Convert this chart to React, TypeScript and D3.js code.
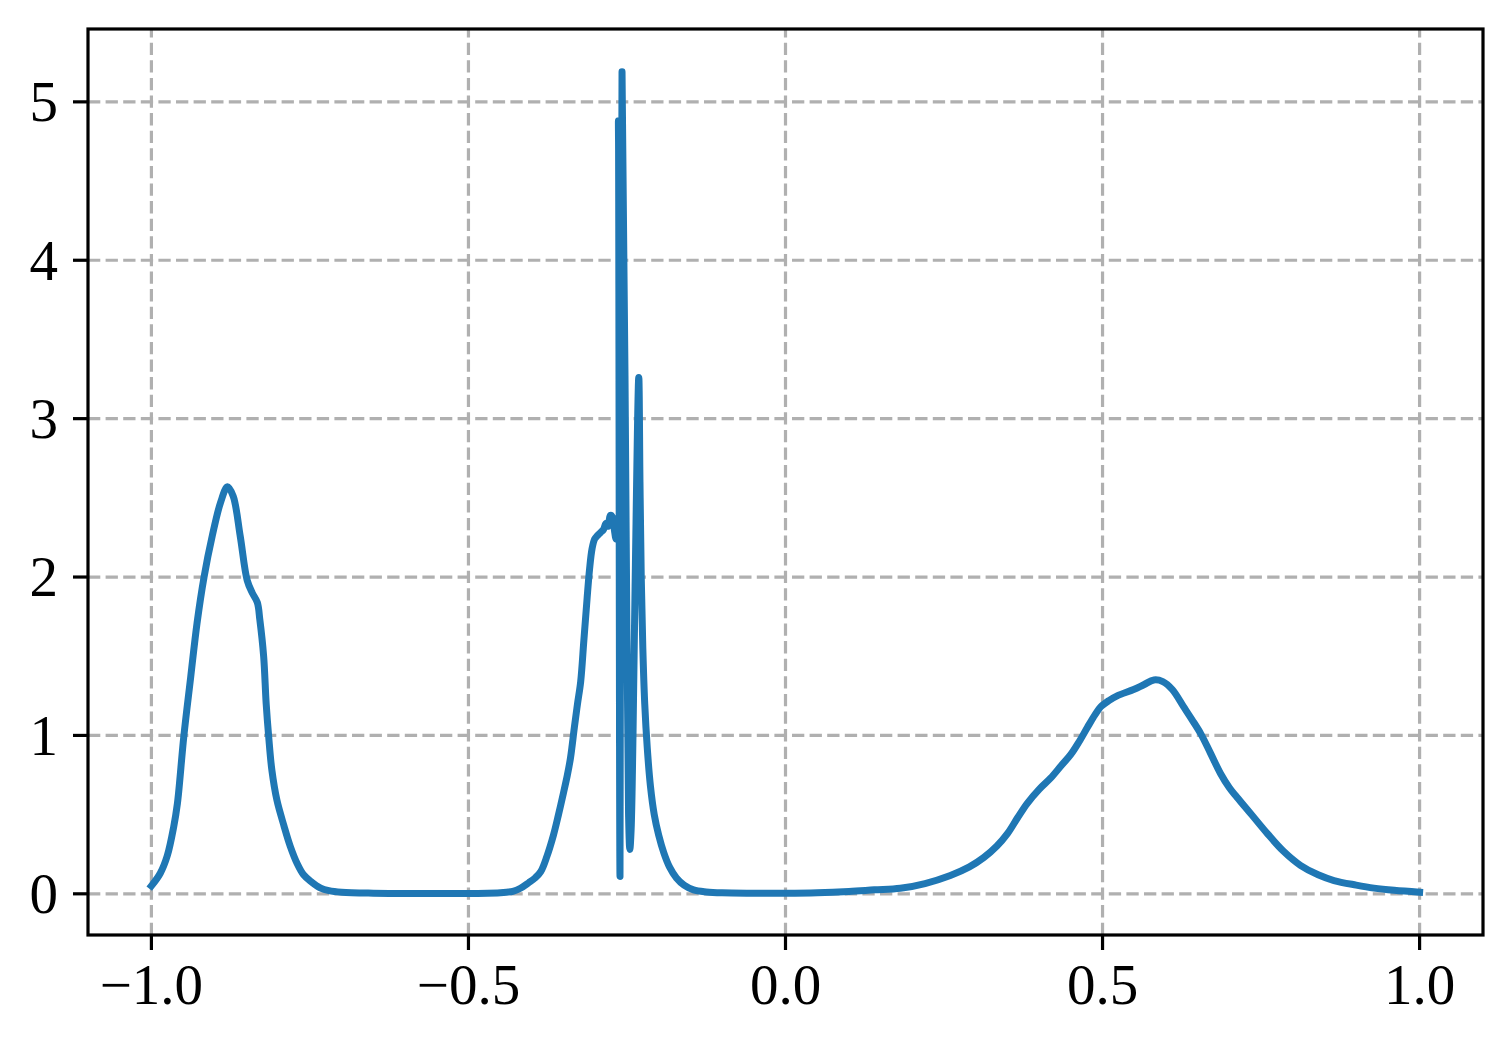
import React from "react";
import * as d3 from "d3";

const xValues: number[] = [
  -1.0, -0.986, -0.975, -0.965, -0.959, -0.949, -0.938, -0.928, -0.917, -0.904, -0.891, -0.88, -0.871, -0.86,
  -0.849, -0.841, -0.833, -0.829, -0.823, -0.819, -0.815, -0.81, -0.802, -0.791, -0.781, -0.77, -0.76, -0.749,
  -0.733, -0.72, -0.7, -0.65, -0.55, -0.47, -0.44, -0.43,
  -0.418, -0.405, -0.395, -0.386, -0.376, -0.366, -0.358, -0.35, -0.344, -0.339, -0.333, -0.328, -0.323,
  -0.318, -0.313, -0.309, -0.305, -0.301, -0.297, -0.292, -0.287, -0.283, -0.28, -0.276, -0.273, -0.27,
  -0.267, -0.265, -0.2635, -0.261, -0.2578, -0.25, -0.2475, -0.2455, -0.2435, -0.2405, -0.237, -0.2314,
  -0.2295, -0.2275, -0.225, -0.222, -0.218, -0.213, -0.207, -0.2, -0.192, -0.183, -0.172, -0.16, -0.145,
  -0.125, -0.1, -0.05, 0.0, 0.05, 0.1, 0.14, 0.181, 0.22, 0.26, 0.29, 0.313, 0.333, 0.35, 0.366, 0.381,
  0.4, 0.418, 0.435, 0.45, 0.463, 0.476, 0.488, 0.497, 0.51, 0.523, 0.549, 0.565, 0.581, 0.595, 0.61,
  0.628, 0.641, 0.655, 0.67, 0.686, 0.7, 0.712, 0.735, 0.76, 0.785, 0.812, 0.84, 0.865, 0.9, 0.928,
  0.96, 1.0,
];

const yValues: number[] = [
  0.05, 0.13, 0.24, 0.42, 0.57, 0.99, 1.37, 1.71, 2.0, 2.26, 2.47, 2.57, 2.51, 2.26,
  1.98, 1.9, 1.84, 1.73, 1.5, 1.2, 0.99, 0.78, 0.59, 0.43, 0.3, 0.19, 0.12, 0.08,
  0.036, 0.02, 0.01, 0.004, 0.002, 0.003, 0.01, 0.015,
  0.035, 0.07, 0.1, 0.14, 0.24, 0.37, 0.5, 0.64, 0.75, 0.86, 1.05, 1.2, 1.34,
  1.6, 1.86, 2.05, 2.18, 2.24, 2.26, 2.28, 2.3, 2.34, 2.32, 2.39, 2.38, 2.3,
  2.24, 2.25, 4.88, 0.11, 5.19, 1.6, 0.5, 0.28, 0.4, 1.0, 2.0, 3.26,
  2.6, 2.0, 1.55, 1.2, 0.92, 0.68, 0.5, 0.37, 0.26, 0.17, 0.1, 0.055, 0.025,
  0.012, 0.006, 0.004, 0.004, 0.007, 0.015, 0.025, 0.035, 0.065, 0.116, 0.17, 0.23, 0.3, 0.38, 0.48, 0.57,
  0.66, 0.73, 0.81, 0.88, 0.96, 1.05, 1.13, 1.18, 1.22, 1.25, 1.29, 1.32, 1.35, 1.34, 1.29,
  1.18, 1.1, 1.01, 0.89, 0.76, 0.67, 0.61, 0.5, 0.38, 0.27, 0.18, 0.12, 0.084, 0.055, 0.036,
  0.022, 0.01,
];

const xTicks: number[] = [-1.0, -0.5, 0.0, 0.5, 1.0];
const xTickLabels: string[] = ["\u22121.0", "\u22120.5", "0.0", "0.5", "1.0"];
const yTicks: number[] = [0, 1, 2, 3, 4, 5];
const yTickLabels: string[] = ["0", "1", "2", "3", "4", "5"];

const W = 1512;
const H = 1046;
const L = 88;
const R = 1483;
const T = 29;
const B = 935;

export default function App() {
  const x = d3.scaleLinear().domain([-1.1, 1.1]).range([L, R]);
  const y = d3.scaleLinear().domain([-0.26, 5.46]).range([B, T]);
  const pts: [number, number][] = xValues.map((v, i) => [v, yValues[i]]);
  const line = d3
    .line<[number, number]>()
    .x((d) => x(d[0]))
    .y((d) => y(d[1]))
    .curve(d3.curveCatmullRom.alpha(0.5));
  const font = "'Liberation Serif', 'Times New Roman', serif";
  const fs = 57;
  const gridStyle = { stroke: "#b0b0b0", strokeWidth: 3.2, strokeDasharray: "12.3,5.3" };
  return (
    <svg
      width={W}
      height={H}
      style={{ position: "absolute", left: 0, top: 0, background: "#fff" }}
    >
      <rect x={0} y={0} width={W} height={H} fill="#fff" />
      <defs>
        <clipPath id="plotclip">
          <rect x={L} y={T} width={R - L} height={B - T} />
        </clipPath>
      </defs>
      {xTicks.map((t) => (
        <line key={"gx" + t} x1={x(t)} x2={x(t)} y1={B} y2={T} {...gridStyle} />
      ))}
      {yTicks.map((t) => (
        <line key={"gy" + t} x1={L} x2={R} y1={y(t)} y2={y(t)} {...gridStyle} />
      ))}
      <path
        d={line(pts) || ""}
        fill="none"
        stroke="#1f77b4"
        strokeWidth={7}
        strokeLinejoin="round"
        strokeLinecap="square"
        clipPath="url(#plotclip)"
      />
      <rect x={L} y={T} width={R - L} height={B - T} fill="none" stroke="#000" strokeWidth={3.2} />
      {xTicks.map((t, i) => (
        <g key={"xt" + t}>
          <line x1={x(t)} x2={x(t)} y1={B} y2={B + 15} stroke="#000" strokeWidth={3.2} />
          <text
            x={x(t)}
            y={1004}
            textAnchor="middle"
            fontFamily={font}
            fontSize={fs}
            fill="#000"
          >
            {xTickLabels[i]}
          </text>
        </g>
      ))}
      {yTicks.map((t, i) => (
        <g key={"yt" + t}>
          <line x1={L} x2={L - 15} y1={y(t)} y2={y(t)} stroke="#000" strokeWidth={3.2} />
          <text
            x={58}
            y={y(t) + fs * 0.338}
            textAnchor="end"
            fontFamily={font}
            fontSize={fs}
            fill="#000"
          >
            {yTickLabels[i]}
          </text>
        </g>
      ))}
    </svg>
  );
}
